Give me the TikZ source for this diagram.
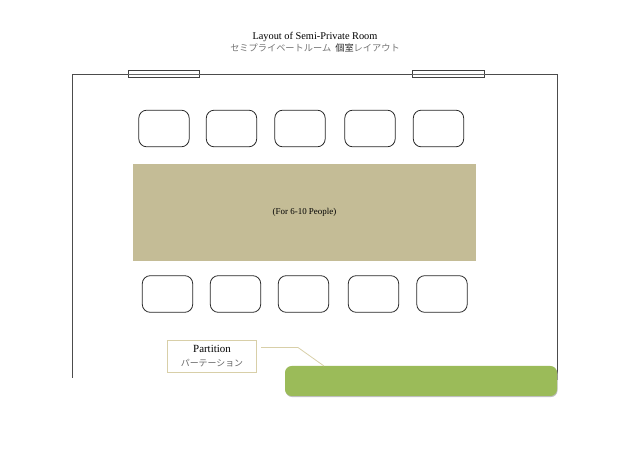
\documentclass[tikz,border=0pt]{standalone}
\usepackage{fontspec}
\setmainfont{Liberation Serif}
\newfontfamily\cjk{Noto Sans CJK JP}
\usetikzlibrary{positioning,shadows}
\definecolor{tablecol}{HTML}{C4BC96}
\definecolor{partcol}{HTML}{9BBB59}
\definecolor{labelcol}{HTML}{D8CFA8}
\begin{document}
\begin{tikzpicture}[x=0.75pt,y=-0.75pt,
  chair/.style = {draw=black!85, line width=0.6pt, rounded corners=6pt, minimum width=37.8pt, minimum height=27.5pt, inner sep=0pt},
  glass/.style = {draw=black!75, fill=white, line width=0.6pt, minimum width=53.5pt, minimum height=4.8pt, inner sep=0pt},
  wall/.style = {draw=black!70, line width=0.6pt}]
\useasboundingbox (0,0) rectangle (640,452);
\node[font=\fontsize{7.75}{8}\selectfont] (titleen) at (315,37) {Layout of Semi-Private Room};
\node[font=\fontsize{6.9}{8}\selectfont\cjk, text=black!55] (titleja) at (315,48.5) {セミプライベートルーム\ \ \textcolor{black!85}{個室}レイアウト};
\draw[wall] (72,378) -- (72,74) -- (557,74) -- (557,380);
\node[glass] (windowa) at (164,74) {};
\node[glass] (windowb) at (448.5,74) {};
\draw[black!60, line width=0.4pt] (windowa.west) -- (windowa.east);
\draw[black!60, line width=0.4pt] (windowb.west) -- (windowb.east);
\foreach \x/\n in {164/1,231.5/2,300/3,370/4,438.5/5}
    \node[chair] (top\n) at (\x,128.5) {};
\foreach \x/\n in {167.5/1,235.5/2,303.5/3,373.5/4,442/5}
    \node[chair] (bottom\n) at (\x,294) {};
\node[fill=tablecol, minimum width=257pt, minimum height=73pt, inner sep=0pt, font=\fontsize{6.7}{8}\selectfont] (tablebox) at (304.5,212.5) {(For 6-10 People)};
\node[fill=partcol, rounded corners=5pt, minimum width=204pt, minimum height=22.5pt, inner sep=0pt, drop shadow={shadow xshift=0.4pt, shadow yshift=-0.8pt, fill=black!25, opacity=1}] (partition) at (421,381) {};
\node[draw=labelcol, fill=white, line width=0.7pt, minimum width=67pt, minimum height=24.5pt, inner sep=0pt, align=center] (partlabel) at (212,356.5)
    {\fontsize{8.2}{9}\selectfont Partition\\[-1.5pt] {\fontsize{6.7}{8}\selectfont\cjk\color{black!60} パーテーション}};
\coordinate (leaderstart) at (261,347.5);
\coordinate (leaderbend) at (298,347.5);
\draw[labelcol, line width=0.6pt] (leaderstart) -- (leaderbend) -- (324,366);
\end{tikzpicture}
\end{document}
